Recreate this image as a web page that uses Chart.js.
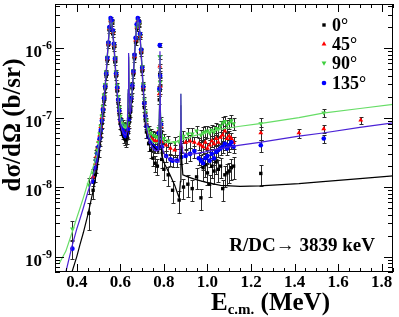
<!DOCTYPE html>
<html>
<head>
<meta charset="utf-8">
<script src="https://cdn.jsdelivr.net/npm/chart.js@4.4.1/dist/chart.umd.min.js"></script>
<style>
  html, body { margin: 0; padding: 0; background: #fff; }
  canvas { display: block; }
</style>
</head>
<body>
<canvas id="xsec" width="399" height="317"></canvas>
<script>
// angles of the four detectors (legend order)
const angleLabels = ["0°", "45°", "90°", "135°"];

// measured energies (MeV, c.m.)
const energy = [
  0.38, 0.456, 0.475, 0.485,
  0.49, 0.495, 0.5, 0.505, 0.51, 0.515, 0.52, 0.525, 0.53, 0.535, 0.54, 0.545,
  0.55, 0.555, 0.56, 0.565, 0.57, 0.575, 0.58, 0.585, 0.59, 0.595, 0.6, 0.605,
  0.61, 0.615, 0.62, 0.625, 0.63, 0.635, 0.64, 0.645, 0.65, 0.655, 0.66, 0.665,
  0.67, 0.675, 0.68, 0.685, 0.69, 0.695, 0.7, 0.705, 0.71, 0.715, 0.72,
  0.73, 0.74, 0.75, 0.76, 0.77, 0.776, 0.779, 0.781, 0.783, 0.786, 0.79,
  0.8, 0.81, 0.82, 0.83, 0.84, 0.85, 0.86, 0.87, 0.88, 0.89, 0.9, 0.91, 0.92,
  0.93, 0.94, 0.95, 0.96, 0.97, 0.98, 0.99, 1.0, 1.01, 1.02, 1.03, 1.04, 1.05,
  1.06, 1.07, 1.08, 1.09, 1.1, 1.11, 1.12,
  1.245, 1.42, 1.534, 1.704
];

// dsigma/dOmega (b/sr) per angle, null = no point
const sigma0 = [
  null, 4.2e-9, 9e-9, 1.5e-8,
  2.0e-8, 2.6e-8, 3.3e-8, 4.6e-8, 6.0e-8, 8.2e-8, 1.2e-7, 1.7e-7, 2.6e-7, 3.9e-7, 6.5e-7, 1.1e-6,
  1.8e-6, 2.4e-6, 2.3e-6, 1.6e-6, 1.0e-6, 6.3e-7, 3.9e-7, 2.4e-7, 1.6e-7, 1.1e-7, 8.2e-8, 6.8e-8,
  6.0e-8, 5.4e-8, 5.0e-8, 4.8e-8, 5.2e-8, 6.0e-8, 8.5e-8, 1.2e-7, 1.7e-7, 2.6e-7, 4.1e-7, 7.0e-7,
  1.2e-6, 1.9e-6, 2.4e-6, 2.2e-6, 1.45e-6, 8.5e-7, 4.6e-7, 2.5e-7, 1.4e-7, 9.0e-8, 6.2e-8,
  4.2e-8, 3.4e-8, 2.6e-8, 2.2e-8, 2.0e-8, 4.5e-8, 1.8e-7, 4.2e-7, 2.5e-7, 6.0e-8, 2.5e-8,
  1.8e-8, null, 1.5e-8, null, 9.0e-9, null, null, 6.5e-9, null, 1.0e-8, null, 1.1e-8, null,
  9.5e-9, null, 1.4e-8, null, 7.0e-9, 1.9e-8, 2.1e-8, 1.6e-8, 1.1e-8, 2.0e-8, 1.7e-8, 2.3e-8, 1.8e-8,
  2.0e-8, 9.5e-9, 1.5e-8, 1.6e-8, 1.7e-8, 1.9e-8, 2.0e-8,
  1.57e-8, null, null, null
];
const sigma45 = [
  null, null, 1.4e-8, 2.2e-8,
  2.8e-8, 3.6e-8, 4.5e-8, 5.6e-8, 7.4e-8, 1.0e-7, 1.4e-7, 2.0e-7, 2.9e-7, 4.4e-7, 7.0e-7, 1.15e-6,
  1.9e-6, 2.5e-6, 2.4e-6, 1.7e-6, 1.1e-6, 6.8e-7, 4.2e-7, 2.6e-7, 1.8e-7, 1.25e-7, 9.0e-8, 7.6e-8,
  6.8e-8, 6.2e-8, 5.8e-8, 5.6e-8, 6.0e-8, 7.2e-8, 1.0e-7, 1.35e-7, 1.9e-7, 2.9e-7, 4.5e-7, 7.6e-7,
  1.3e-6, 2.0e-6, 2.5e-6, 2.3e-6, 1.5e-6, 9.0e-7, 5.0e-7, 2.7e-7, 1.6e-7, 1.1e-7, 8.0e-8,
  6.0e-8, 5.2e-8, 4.8e-8, 4.6e-8, 4.6e-8, 6.5e-8, 2.2e-7, 5.5e-7, 2.8e-7, 7.5e-8, 4.5e-8,
  null, 4.0e-8, null, 3.6e-8, null, 3.4e-8, null, null, 3.8e-8, null, 4.4e-8, null, 4.6e-8,
  null, 4.4e-8, null, 4.2e-8, 4.0e-8, 3.8e-8, 4.4e-8, 3.6e-8, 4.0e-8, 4.6e-8, 4.2e-8, 5.0e-8, 4.4e-8,
  5.2e-8, 5.6e-8, 6.4e-8, 5.0e-8, 5.4e-8, 5.0e-8, 4.4e-8,
  6.0e-8, 6.0e-8, 6.9e-8, 9.2e-8
];
const sigma90 = [
  2.5e-9, 1.07e-8, 1.6e-8, 2.4e-8,
  3.0e-8, 3.4e-8, 4.4e-8, 5.8e-8, 7.5e-8, 1.05e-7, 1.45e-7, 2.1e-7, 3.0e-7, 4.5e-7, 7.4e-7, 1.2e-6,
  1.9e-6, 2.5e-6, 2.3e-6, 1.7e-6, 1.1e-6, 7.2e-7, 4.5e-7, 2.9e-7, 2.0e-7, 1.4e-7, 1.05e-7, 9.0e-8,
  8.2e-8, 7.8e-8, 7.5e-8, 7.4e-8, 7.6e-8, 8.4e-8, 1.05e-7, 1.4e-7, 2.0e-7, 3.0e-7, 4.7e-7, 7.8e-7,
  1.35e-6, 2.0e-6, 2.5e-6, 2.2e-6, 1.5e-6, 9.2e-7, 5.4e-7, 3.0e-7, 1.8e-7, 1.2e-7, 9.0e-8,
  6.8e-8, 6.0e-8, 5.6e-8, 5.4e-8, 5.2e-8, 7.0e-8, 2.4e-7, 7.5e-7, 3.2e-7, 9.0e-8, 5.5e-8,
  5.0e-8, null, 4.6e-8, null, null, 4.4e-8, null, 4.5e-8, null, 5.4e-8, null, 5.8e-8, null,
  5.8e-8, null, 6.4e-8, null, 5.6e-8, 6.0e-8, 6.2e-8, 6.4e-8, 6.0e-8, 6.6e-8, 6.2e-8, 7.0e-8, 6.8e-8,
  7.6e-8, 8.4e-8, 8.8e-8, 7.8e-8, 8.4e-8, 9.0e-8, 8.2e-8,
  8.2e-8, null, 1.17e-7, null
];
const sigma135 = [
  1.3e-9, null, 1.2e-8, 1.9e-8,
  2.4e-8, 3.0e-8, 3.8e-8, 5.0e-8, 6.6e-8, 9.0e-8, 1.3e-7, 1.9e-7, 2.8e-7, 4.3e-7, 7.2e-7, 1.2e-6,
  2.0e-6, 2.7e-6, 2.5e-6, 1.8e-6, 1.15e-6, 7.0e-7, 4.3e-7, 2.7e-7, 1.8e-7, 1.25e-7, 9.2e-8, 7.6e-8,
  6.6e-8, 6.0e-8, 5.6e-8, 5.4e-8, 5.8e-8, 6.8e-8, 9.5e-8, 1.3e-7, 1.9e-7, 2.9e-7, 4.6e-7, 8.0e-7,
  1.4e-6, 2.2e-6, 2.7e-6, 2.4e-6, 1.6e-6, 9.5e-7, 5.2e-7, 2.8e-7, 1.6e-7, 1.05e-7, 7.5e-8,
  5.2e-8, 4.4e-8, 3.9e-8, 3.6e-8, 3.6e-8, 6.0e-8, 2.6e-7, 1.1e-6, 4.0e-7, 8.0e-8, 3.8e-8,
  null, 2.8e-8, null, 2.5e-8, 2.4e-8, null, 2.4e-8, null, 2.7e-8, null, 2.8e-8, null, 3.0e-8,
  null, 3.3e-8, null, 2.6e-8, 2.4e-8, 2.2e-8, 2.6e-8, 2.8e-8, 2.4e-8, 3.0e-8, 2.6e-8, 3.2e-8, 3.4e-8,
  3.6e-8, 3.8e-8, 4.2e-8, 3.6e-8, 4.0e-8, 4.4e-8, 3.8e-8,
  4.0e-8, null, 5.0e-8, null
];

// relative uncertainty per energy, and how much larger the 0 deg errors are
const relErr = [
  0.3, 0.25, 0.15, 0.12,
  0.12, 0.1, 0.1, 0.09, 0.08, 0.08, 0.07, 0.07, 0.06, 0.06, 0.05, 0.05,
  0.05, 0.05, 0.05, 0.05, 0.05, 0.06, 0.06, 0.07, 0.07, 0.08, 0.09, 0.1,
  0.11, 0.12, 0.12, 0.12, 0.12, 0.11, 0.1, 0.09, 0.08, 0.07, 0.06, 0.06,
  0.05, 0.05, 0.05, 0.05, 0.05, 0.06, 0.06, 0.07, 0.08, 0.09, 0.1,
  0.12, 0.13, 0.14, 0.15, 0.15, 0.12, 0.08, 0.06, 0.08, 0.12, 0.15,
  0.17, 0.18, 0.18, 0.19, 0.2, 0.2, 0.2, 0.21, 0.2, 0.19, 0.2, 0.2, 0.21,
  0.2, 0.2, 0.19, 0.2, 0.2, 0.21, 0.2, 0.2, 0.2, 0.19, 0.2, 0.2, 0.2,
  0.19, 0.2, 0.2, 0.2, 0.19, 0.2, 0.2,
  0.2, 0.15, 0.14, 0.12
];
const errScale = [1.7, 1, 1, 1];

// R-matrix / direct capture curves
const curveEnergy = [
  0.32, 0.35, 0.378, 0.4, 0.415, 0.43, 0.451, 0.474, 0.493, 0.506,
  0.52, 0.534, 0.543, 0.55, 0.556, 0.562, 0.571, 0.58, 0.589, 0.598,
  0.607, 0.617, 0.626, 0.632, 0.636, 0.638, 0.64, 0.645, 0.652, 0.66,
  0.667, 0.674, 0.68, 0.686, 0.692, 0.698, 0.704, 0.713, 0.722, 0.735,
  0.75, 0.765, 0.776, 0.78, 0.782, 0.784, 0.79, 0.805, 0.828, 0.85,
  0.87, 0.876, 0.878, 0.88, 0.887, 0.91, 0.94, 0.99, 1.06, 1.15,
  1.24, 1.42, 1.53, 1.7, 1.855
];
const fit0 = [
  1.2e-10, 2.5e-10, 6.0e-10, 1.0e-9, 1.5e-9, 2.2e-9, 4.0e-9, 8.5e-9, 1.8e-8, 4.0e-8,
  1.15e-7, 3.7e-7, 1.0e-6, 1.9e-6, 2.5e-6, 2.1e-6, 1.0e-6, 3.7e-7, 1.55e-7, 8.0e-8,
  5.6e-8, 4.7e-8, 4.6e-8, 5.4e-8, 2.2e-7, 7.5e-7, 2.2e-7, 9.5e-8, 1.7e-7, 4.2e-7,
  9.5e-7, 1.9e-6, 2.5e-6, 2.2e-6, 1.2e-6, 6.0e-7, 2.7e-7, 1.05e-7, 5.6e-8, 4.4e-8,
  3.9e-8, 3.5e-8, 3.2e-8, 1.3e-7, 5.0e-7, 8.0e-8, 2.8e-8, 2.1e-8, 1.5e-8, 1.05e-8,
  7.0e-9, 1.2e-8, 1.5e-7, 3.0e-8, 1.5e-8, 1.4e-8, 1.3e-8, 1.18e-8, 1.06e-8, 1.02e-8,
  1.04e-8, 1.12e-8, 1.2e-8, 1.32e-8, 1.45e-8
];
const fit90 = [
  8.0e-10, 1.2e-9, 2.2e-9, 3.6e-9, 5.0e-9, 7.0e-9, 1.15e-8, 1.9e-8, 2.9e-8, 5.0e-8,
  1.3e-7, 4.0e-7, 1.05e-6, 1.95e-6, 2.5e-6, 2.1e-6, 1.1e-6, 4.2e-7, 1.9e-7, 1.05e-7,
  8.0e-8, 7.2e-8, 7.0e-8, 7.6e-8, 2.5e-7, 8.0e-7, 2.5e-7, 1.2e-7, 2.0e-7, 4.6e-7,
  1.0e-6, 1.9e-6, 2.5e-6, 2.2e-6, 1.3e-6, 6.8e-7, 3.2e-7, 1.35e-7, 7.5e-8, 5.2e-8,
  4.4e-8, 4.3e-8, 4.4e-8, 1.6e-7, 7.0e-7, 1.3e-7, 5.0e-8, 4.4e-8, 4.4e-8, 4.5e-8,
  4.5e-8, 6.5e-8, 2.2e-7, 7.0e-8, 4.8e-8, 5.1e-8, 5.5e-8, 6.0e-8, 6.8e-8, 7.5e-8,
  8.2e-8, 1.0e-7, 1.16e-7, 1.35e-7, 1.55e-7
];
const fit135 = [
  3.2e-10, 6.0e-10, 1.4e-9, 2.5e-9, 3.5e-9, 5.0e-9, 8.5e-9, 1.4e-8, 2.4e-8, 4.6e-8,
  1.24e-7, 3.9e-7, 1.05e-6, 2.0e-6, 2.65e-6, 2.2e-6, 1.1e-6, 4.0e-7, 1.7e-7, 9.0e-8,
  6.6e-8, 5.8e-8, 5.6e-8, 6.5e-8, 2.5e-7, 8.5e-7, 2.5e-7, 1.1e-7, 1.9e-7, 4.5e-7,
  1.0e-6, 2.0e-6, 2.65e-6, 2.3e-6, 1.3e-6, 6.5e-7, 3.0e-7, 1.2e-7, 6.5e-8, 4.4e-8,
  3.6e-8, 3.3e-8, 3.4e-8, 1.5e-7, 9.0e-7, 1.2e-7, 3.8e-8, 2.8e-8, 2.5e-8, 2.4e-8,
  2.3e-8, 4.5e-8, 2.2e-7, 5.0e-8, 3.1e-8, 3.0e-8, 3.0e-8, 3.2e-8, 3.6e-8, 4.0e-8,
  4.4e-8, 5.4e-8, 6.0e-8, 7.2e-8, 8.4e-8
];

// axis ticks
const xMajorTicks = [0.4, 0.6, 0.8, 1.0, 1.2, 1.4, 1.6, 1.8];
const xTickLabels = ["0.4", "0.6", "0.8", "1.0", "1.2", "1.4", "1.6", "1.8"];
const yMajorTicks = [1e-9, 1e-8, 1e-7, 1e-6];
const yTickExponents = ["-9", "-8", "-7", "-6"];

const SERIF = '"Liberation Serif", "DejaVu Serif", serif';

const markerStyles = [
  { pointStyle: "rect", rotation: 0, radius: 2.4, color: "#000000" },
  { pointStyle: "triangle", rotation: 0, radius: 2.8, color: "#ff0000" },
  { pointStyle: "triangle", rotation: 180, radius: 2.8, color: "#3fcf3f" },
  { pointStyle: "circle", rotation: 0, radius: 2.3, color: "#0000ff" },
];

function buildPoints(values, scale) {
  const pts = [];
  energy.forEach((e, i) => {
    const v = values[i];
    if (v === null) return;
    pts.push({ x: e, y: v, err: v * relErr[i] * scale });
  });
  return pts;
}

function buildCurve(values) {
  return curveEnergy.map((e, i) => ({ x: e, y: values[i] }));
}

const seriesValues = [sigma0, sigma45, sigma90, sigma135];
const pointOrder = [6, 5, 4, 3]; // 135 deg drawn on top

let datasets = seriesValues.map((vals, s) => ({
  label: angleLabels[s],
  data: buildPoints(vals, errScale[s]),
  errorBars: true,
  showLine: false,
  pointStyle: markerStyles[s].pointStyle,
  rotation: markerStyles[s].rotation,
  pointRadius: markerStyles[s].radius,
  pointBackgroundColor: markerStyles[s].color,
  pointBorderWidth: 0,
  order: pointOrder[s],
}));

const curves = [
  { values: fit0, color: "#000000", order: 2 },
  { values: fit90, color: "#66dd66", order: 1 },
  { values: fit135, color: "#4a22d6", order: 0 },
];
curves.forEach((c) => {
  datasets.push({
    data: buildCurve(c.values),
    showLine: true,
    fill: false,
    tension: 0,
    pointRadius: 0,
    borderColor: c.color,
    borderWidth: 1.2,
    order: c.order,
  });
});

const errorBars = {
  id: "errorBars",
  beforeDatasetsDraw(chart) {
    const { ctx, chartArea: a, scales: { x, y } } = chart;
    ctx.save();
    ctx.beginPath();
    ctx.rect(a.left, a.top, a.right - a.left, a.bottom - a.top);
    ctx.clip();
    ctx.strokeStyle = "#2a2a2a";
    ctx.lineWidth = 1;
    ctx.beginPath();
    chart.data.datasets.forEach((ds) => {
      if (!ds.errorBars) return;
      ds.data.forEach((p) => {
        const px = Math.round(x.getPixelForValue(p.x)) + 0.5;
        const lo = Math.max(p.y - p.err, p.y * 0.05);
        const yTop = Math.round(y.getPixelForValue(p.y + p.err)) + 0.5;
        const yBot = Math.round(y.getPixelForValue(lo)) + 0.5;
        ctx.moveTo(px, yTop); ctx.lineTo(px, yBot);
        ctx.moveTo(px - 2, yTop); ctx.lineTo(px + 2, yTop);
        ctx.moveTo(px - 2, yBot); ctx.lineTo(px + 2, yBot);
      });
    });
    ctx.stroke();
    ctx.restore();
  },
};

const frame = {
  id: "frame",
  afterDraw(chart) {
    const { ctx, chartArea: a, scales: { x, y } } = chart;
    ctx.save();
    ctx.strokeStyle = "#000";
    ctx.lineWidth = 1;
    ctx.strokeRect(a.left + 0.5, a.top + 0.5, a.right - a.left - 1, a.bottom - a.top - 1);

    // x ticks, bottom and top, inward
    ctx.beginPath();
    for (let k = 0; k <= 31; k++) {
      const v = 0.3 + k * 0.05;
      if (v > x.max + 1e-9) break;
      const px = Math.round(x.getPixelForValue(v)) + 0.5;
      const major = xMajorTicks.some((t) => Math.abs(t - v) < 1e-6);
      const len = major ? 8 : 4;
      ctx.moveTo(px, a.bottom); ctx.lineTo(px, a.bottom - len);
      ctx.moveTo(px, a.top); ctx.lineTo(px, a.top + len);
    }
    // y ticks, left and right, inward (log decades with 2..9 minors)
    for (let dec = -10; dec <= -6; dec++) {
      for (let m = 1; m <= 9; m++) {
        const v = m * Math.pow(10, dec);
        if (v < y.min || v > y.max) continue;
        const py = Math.round(y.getPixelForValue(v)) + 0.5;
        const len = m === 1 ? 9 : 5;
        ctx.moveTo(a.left, py); ctx.lineTo(a.left + len, py);
        ctx.moveTo(a.right, py); ctx.lineTo(a.right - len, py);
      }
    }
    ctx.stroke();

    ctx.fillStyle = "#000";
    // x tick labels
    ctx.font = "bold 17px " + SERIF;
    ctx.textAlign = "center";
    ctx.textBaseline = "alphabetic";
    xMajorTicks.forEach((t, i) => {
      ctx.fillText(xTickLabels[i], x.getPixelForValue(t), 287);
    });
    // y tick labels 10^n
    yMajorTicks.forEach((t, i) => {
      const py = y.getPixelForValue(t);
      ctx.font = "bold 17px " + SERIF;
      ctx.textAlign = "right";
      ctx.fillText("10", 42, py + 9);
      ctx.font = "bold 12px " + SERIF;
      ctx.textAlign = "left";
      ctx.fillText(yTickExponents[i], 42, py + 1);
    });

    // x axis title  E_c.m. (MeV)
    const bigFont = "bold 25px " + SERIF;
    const subFont = "bold 15px " + SERIF;
    ctx.font = bigFont;
    const wE = ctx.measureText("E").width;
    const wUnit = ctx.measureText(" (MeV)").width;
    ctx.font = subFont;
    const wSub = ctx.measureText("c.m.").width;
    let tx = 330 - (wE + wSub + wUnit);
    ctx.textAlign = "left";
    ctx.font = bigFont;
    ctx.fillText("E", tx, 310);
    ctx.font = subFont;
    ctx.fillText("c.m.", tx + wE, 314);
    ctx.font = bigFont;
    ctx.fillText(" (MeV)", tx + wE + wSub, 310);

    // y axis title
    ctx.save();
    ctx.translate(20, 125);
    ctx.rotate(-Math.PI / 2);
    ctx.textAlign = "center";
    ctx.font = bigFont;
    ctx.fillText("dσ/dΩ (b/sr)", 0, 0);
    ctx.restore();

    // legend
    ctx.font = "bold 18px " + SERIF;
    ctx.textAlign = "left";
    const legendY = [25, 44, 63, 83];
    angleLabels.forEach((lab, s) => {
      const st = markerStyles[s];
      ctx.fillStyle = st.color;
      Chart.helpers.drawPoint(ctx, { pointStyle: st.pointStyle, rotation: st.rotation, radius: st.radius, borderWidth: 0 }, 324, legendY[s]);
      ctx.fillStyle = "#000";
      ctx.fillText(lab, 332, legendY[s] + 6);
    });

    // annotation
    ctx.font = "bold 19px " + SERIF;
    ctx.textAlign = "right";
    ctx.fillText("R/DC\u2192 3839 keV", 375, 251);
    ctx.restore();
  },
};

new Chart(document.getElementById("xsec"), {
  type: "scatter",
  data: { datasets: datasets },
  options: {
    responsive: false,
    animation: false,
    events: [],
    layout: { padding: { left: 55, top: 3, right: 6, bottom: 45 } },
    plugins: { legend: { display: false }, tooltip: { enabled: false } },
    scales: {
      x: { type: "linear", min: 0.3, max: 1.852, display: false },
      y: { type: "logarithmic", min: 6e-10, max: 4.3e-6, display: false },
    },
  },
  plugins: [errorBars, frame],
});
</script>
</body>
</html>
